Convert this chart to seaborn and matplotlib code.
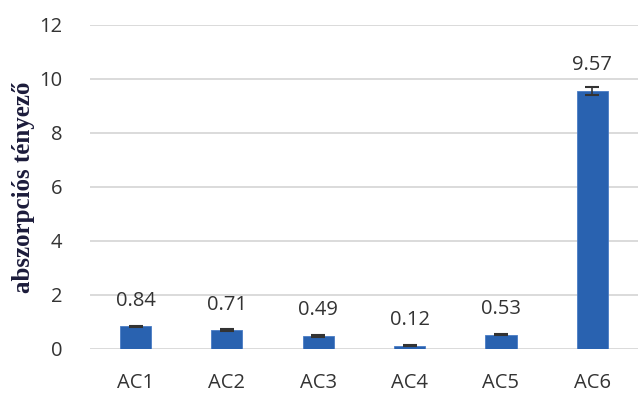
import numpy as np
import pandas as pd
import matplotlib
matplotlib.use('Agg')
import matplotlib.pyplot as plt
import seaborn as sns

samples = ['AC1', 'AC2', 'AC3', 'AC4', 'AC5', 'AC6']
values = [0.84, 0.71, 0.49, 0.12, 0.53, 9.57]
errors = [0.03, 0.03, 0.03, 0.02, 0.03, 0.15]

data = pd.DataFrame({'minta': samples, 'ertek': values, 'hiba': errors})

sns.set_style('white')
fig = plt.figure(figsize=(6.38, 4.03), dpi=100)
ax = fig.add_axes([0.141, 0.134, 0.859, 0.804])

sns.barplot(x='minta', y='ertek', data=data, color='#2962b0', width=0.34,
            saturation=1, errorbar=None, ax=ax, zorder=3)
for p in ax.patches:
    p.set_edgecolor('#4a7cc4')
    p.set_linewidth(0.6)

ax.errorbar(np.arange(len(samples)), data['ertek'], yerr=data['hiba'], fmt='none',
            ecolor='#333333', elinewidth=1.2, capsize=5, capthick=1.5, zorder=4)

ax.bar_label(ax.containers[0], labels=[f'{v:.2f}' for v in values], padding=11,
             fontsize=14.5, color='#333333', family='Open Sans')

ax.set_ylim(0, 12)
ax.set_xlim(-0.5, 5.5)
ax.set_yticks([0, 2, 4, 6, 8, 10, 12])
ax.grid(axis='y', color='#d4d4d4', linewidth=1.2, zorder=0)
ax.set_axisbelow(True)
for s in ax.spines.values():
    s.set_visible(False)
ax.tick_params(axis='both', length=0, labelsize=14.5, labelcolor='#333333')
ax.tick_params(axis='x', pad=17)
ax.tick_params(axis='y', pad=20)
for lab in ax.get_xticklabels() + ax.get_yticklabels():
    lab.set_family('Open Sans')
ax.set_xlabel('')
ax.set_ylabel('abszorpciós tényező', family='Liberation Serif', fontweight='bold',
              fontsize=18, color='#1b1b3a')
ax.yaxis.set_label_coords(-0.1, 0.5)

fig.savefig('out.png', dpi=100)
